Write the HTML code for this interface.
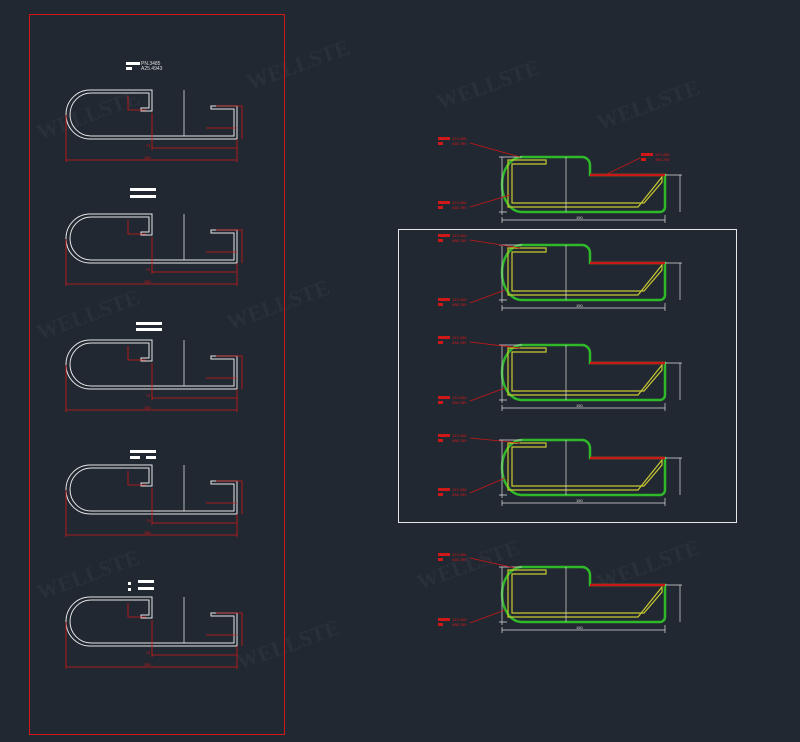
<!DOCTYPE html>
<html><head><meta charset="utf-8"><style>
html,body{margin:0;padding:0;background:#222831;}
svg{display:block}
</style></head><body>
<svg width="800" height="742" viewBox="0 0 800 742" xmlns="http://www.w3.org/2000/svg" font-family="Liberation Sans, sans-serif">
<rect width="800" height="742" fill="#222831"/>
<defs>
<g id="L">
  <path d="M86,0 H24 A24 24.5 0 0 0 24,49 H171 V16 H145 V19 H168 V46 H25 A21 21.5 0 0 1 25,3 H83 V18 H75 V21 H86 Z" fill="none" stroke="#e6e6e6" stroke-width="1"/>
  <path d="M62,6 V20 H80 M140,38 H171 M150,16 H176 V49 M0,25 V72 M0,70 H171 M86,23 V60 M86,58 H171 M171,49 V72" fill="none" stroke="#d01818" stroke-width="0.8"/>
  <path d="M118,0 V46" stroke="#ddd" stroke-width="0.8"/>
  <text x="80" y="57" font-size="4" fill="#d01818">74</text>
  <text x="78" y="69" font-size="4" fill="#d01818">150</text>
</g>
<g id="R">
  <path d="M20,0 H80 A8 8 0 0 1 88,8 V18 H163 V50 A5 5 0 0 1 158,55 H20 A20 27.5 0 0 1 20,0 Z" fill="none" stroke="#2fb82a" stroke-width="2.5"/>
  <path d="M44,3 H6 V50 H136 L160,20 V25 L142,46 H10 V7 H44 Z" fill="none" stroke="#c8c832" stroke-width="1.2"/>
  <path d="M88,18 H163" stroke="#c81818" stroke-width="2.5"/>
  <path d="M0,0 V58 M-3,0 H20 M-3,55 H5 M163,18 H180 M178,18 V55 M0,63 H163 M0,60 V66 M163,58 V66 M64,0 V55" fill="none" stroke="#ddd" stroke-width="0.7"/>
  <text x="74" y="62" font-size="4" fill="#ddd">150</text>
</g>
<g id="lab">
  <rect x="0" y="0" width="12" height="3" fill="#d01818"/><text x="14" y="3" font-size="4" fill="#d01818">123.456</text>
  <rect x="0" y="5" width="5" height="3" fill="#d01818"/><text x="14" y="8" font-size="4" fill="#d01818">456.789</text>
</g>
</defs>
<g font-size="22" fill="#2a3039" font-family="Liberation Serif, serif" font-weight="bold">
<text x="40" y="140" transform="rotate(-20 40 140)">WELLSTE</text>
<text x="250" y="90" transform="rotate(-20 250 90)">WELLSTE</text>
<text x="40" y="340" transform="rotate(-20 40 340)">WELLSTE</text>
<text x="230" y="330" transform="rotate(-20 230 330)">WELLSTE</text>
<text x="40" y="600" transform="rotate(-20 40 600)">WELLSTE</text>
<text x="240" y="670" transform="rotate(-20 240 670)">WELLSTE</text>
<text x="440" y="110" transform="rotate(-20 440 110)">WELLSTE</text>
<text x="600" y="130" transform="rotate(-20 600 130)">WELLSTE</text>
<text x="420" y="590" transform="rotate(-20 420 590)">WELLSTE</text>
<text x="600" y="590" transform="rotate(-20 600 590)">WELLSTE</text>
</g>
<rect x="29.5" y="14.5" width="255" height="720" fill="none" stroke="#d01818" stroke-width="1"/>
<rect x="398.5" y="229.5" width="338" height="293" fill="none" stroke="#e6e6e6" stroke-width="1"/>
<rect x="126" y="62" width="14" height="3" fill="#fff"/><rect x="126" y="67" width="6" height="3" fill="#fff"/>
<text x="141" y="65" font-size="5" fill="#ddd">PN.3485</text><text x="141" y="70" font-size="5" fill="#ddd">A25.4943</text>
<rect x="130" y="188" width="26" height="3" fill="#fff"/><rect x="130" y="195" width="26" height="3" fill="#fff"/>
<rect x="136" y="322" width="26" height="3" fill="#fff"/><rect x="136" y="328" width="26" height="3" fill="#fff"/>
<rect x="130" y="450" width="26" height="3" fill="#fff"/><rect x="130" y="456" width="10" height="3" fill="#fff"/><rect x="146" y="456" width="10" height="3" fill="#fff"/>
<rect x="128" y="582" width="3" height="3" fill="#fff"/><rect x="138" y="580" width="16" height="3" fill="#fff"/><rect x="128" y="588" width="3" height="3" fill="#fff"/><rect x="138" y="587" width="16" height="3" fill="#fff"/>
<use href="#L" x="66" y="90"/>
<use href="#L" x="66" y="214"/>
<use href="#L" x="66" y="340"/>
<use href="#L" x="66" y="465"/>
<use href="#L" x="66" y="597"/>
<use href="#R" x="502" y="157"/>
<use href="#R" x="502" y="245"/>
<use href="#R" x="502" y="345"/>
<use href="#R" x="502" y="440"/>
<use href="#R" x="502" y="567"/>
<g stroke="#c81818" stroke-width="0.8" fill="none">
<path d="M470,143 L520,157 M470,207 L510,195 M605,175 L640,158 M470,240 L520,248 M470,303 L505,290 M470,342 L520,348 M470,401 L505,388 M470,438 L520,443 M470,493 L505,478 M470,558 L515,568 M470,623 L505,610"/>
</g>
<use href="#lab" x="438" y="137"/><use href="#lab" x="438" y="201"/><use href="#lab" x="641" y="153"/>
<use href="#lab" x="438" y="234"/><use href="#lab" x="438" y="298"/>
<use href="#lab" x="438" y="336"/><use href="#lab" x="438" y="396"/>
<use href="#lab" x="438" y="434"/><use href="#lab" x="438" y="488"/>
<use href="#lab" x="438" y="553"/><use href="#lab" x="438" y="618"/>
</svg>
</body></html>
